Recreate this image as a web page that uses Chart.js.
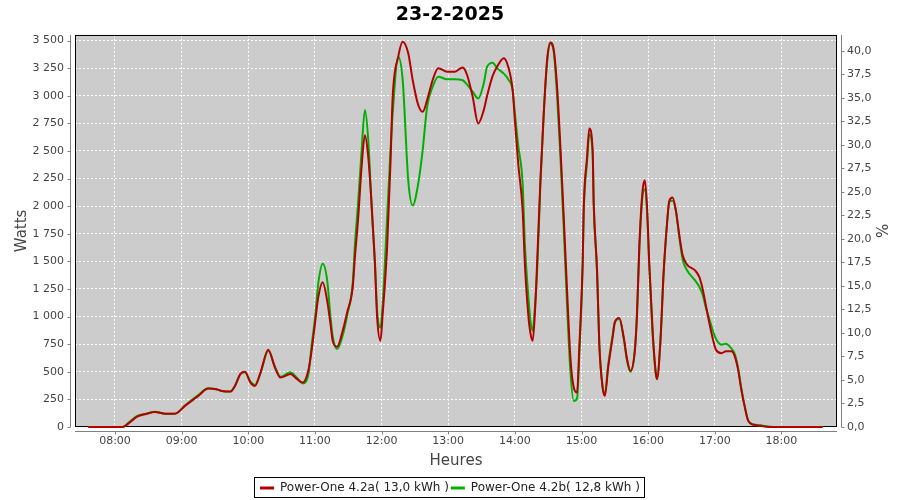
<!DOCTYPE html>
<html>
<head>
<meta charset="utf-8">
<title>23-2-2025</title>
<script src="https://cdn.jsdelivr.net/npm/chart.js@4"></script>
<style>
  html, body { margin: 0; padding: 0; background: #fff; }
</style>
</head>
<body>
<canvas id="chart" width="900" height="500"></canvas>
<script>
// relevés (heure locale)
const times = [
  '07:36','08:07','08:13','08:20','08:28','08:36','08:45','08:54','09:03','09:15',
  '09:24','09:30','09:36','09:44','09:48','09:53','09:57','10:02','10:06','10:11',
  '10:18','10:24','10:29','10:38','10:44','10:49','10:54','10:57','11:00','11:03',
  '11:07','11:11','11:14','11:16','11:20','11:25','11:29','11:34','11:36','11:39',
  '11:42','11:45','11:48','11:51','11:54','11:56','11:59','12:01','12:05','12:08',
  '12:10','12:15','12:19','12:24','12:28','12:33','12:37','12:41','12:46','12:51',
  '12:59','13:06','13:13','13:17','13:22','13:27','13:32','13:35','13:40','13:44',
  '13:50','13:54','13:58','14:00','14:03','14:07','14:09','14:12','14:14','14:16',
  '14:18','14:20','14:23','14:26','14:29','14:32','14:35','14:38','14:41','14:44',
  '14:47','14:50','14:53','14:56','14:58','15:01','15:02','15:05','15:07','15:10',
  '15:11','15:14','15:16','15:19','15:21','15:24','15:28','15:30','15:34','15:38',
  '15:41','15:44','15:48','15:50','15:52','15:55','15:57','15:59','16:01','16:04',
  '16:07','16:08','16:11','16:14','16:17','16:19','16:22','16:25','16:28','16:31',
  '16:35','16:42','16:46','16:49','16:52','16:55','16:58','17:01','17:06','17:10',
  '17:15','17:18','17:21','17:24','17:27','17:30','17:35','17:41','17:48','17:57',
  '18:37'
];

// Power-One 4.2a (W)
const wattsA = [
  0, 0, 40, 94, 118, 136, 121, 121, 191, 282,
  348, 345, 327, 321, 372, 481, 500, 402, 372, 493,
  699, 539, 448, 479, 433, 402, 509, 690, 933, 1174,
  1311, 1144, 933, 781, 727, 872, 1038, 1265, 1538, 1901,
  2355, 2643, 2446, 2023, 1478, 993, 781, 1024, 1629, 2386,
  2991, 3354, 3490, 3385, 3143, 2916, 2855, 2961, 3143, 3249,
  3218, 3218, 3256, 3188, 2991, 2749, 2870, 3000, 3180, 3263,
  3340, 3263, 3052, 2779, 2386, 1962, 1478, 1024, 850, 781,
  1024, 1478, 2234, 2840, 3324, 3482, 3415, 3082, 2537, 1901,
  1235, 629, 357, 312, 720, 1478, 1992, 2446, 2704, 2507,
  2023, 1417, 751, 357, 282, 539, 811, 947, 987, 811,
  615, 509, 690, 1024, 1629, 2143, 2234, 1992, 1478, 872,
  479, 433, 781, 1417, 1841, 2047, 2078, 1955, 1741, 1558,
  1471, 1420, 1359, 1252, 1098, 945, 807, 700, 669, 685,
  685, 639, 517, 332, 180, 57, 20, 11, 0, 0,
  0
];

// Power-One 4.2b (W)
const wattsB = [
  0, 0, 45, 100, 120, 138, 121, 121, 195, 290,
  350, 345, 327, 321, 372, 481, 495, 410, 380, 490,
  690, 545, 455, 495, 445, 395, 470, 740, 980, 1300,
  1478, 1330, 1000, 820, 706, 830, 1010, 1300, 1650, 2050,
  2500, 2870, 2600, 2000, 1500, 1050, 902, 1114, 1900, 2500,
  2840, 3354, 3143, 2234, 2007, 2204, 2507, 2900, 3082, 3173,
  3149, 3149, 3140, 3100, 3037, 2976, 3113, 3263, 3300, 3250,
  3200, 3150, 3050, 2840, 2550, 2200, 1659, 1200, 963, 872,
  1080, 1400, 2204, 2840, 3300, 3470, 3400, 3000, 2450, 1800,
  1100, 500, 236, 260, 650, 1450, 1950, 2400, 2650, 2480,
  2000, 1400, 750, 360, 300, 560, 830, 950, 980, 800,
  600, 500, 700, 1050, 1600, 2100, 2150, 1950, 1450, 850,
  470, 450, 760, 1400, 1850, 2040, 2050, 1960, 1720, 1520,
  1420, 1330, 1270, 1200, 1080, 980, 880, 800, 746, 755,
  710, 660, 530, 340, 185, 60, 22, 15, 5, 0,
  0
];

const seriesNames = ['Power-One 4.2a( 13,0 kWh )', 'Power-One 4.2b( 12,8 kWh )'];
const seriesColors = ['#b40000', '#00b000'];

// graduations
const hourTicks = ['08:00','09:00','10:00','11:00','12:00','13:00','14:00','15:00','16:00','17:00','18:00'];
const wattTicks = [0, 250, 500, 750, 1000, 1250, 1500, 1750, 2000, 2250, 2500, 2750, 3000, 3250, 3500];
const pctTicks = [0, 2.5, 5, 7.5, 10, 12.5, 15, 17.5, 20, 22.5, 25, 27.5, 30, 32.5, 35, 37.5, 40];

function toMinutes(t) {
  const p = t.split(':');
  return Number(p[0]) * 60 + Number(p[1]);
}

function points(values) {
  return values.map((v, i) => ({ x: toMinutes(times[i]), y: v }));
}

function fmtWatts(v) {
  return String(Math.round(v)).replace(/\B(?=(\d{3})+(?!\d))/g, ' ');
}

function fmtHour(v) {
  return String(Math.floor(v / 60)).padStart(2, '0') + ':' + String(v % 60).padStart(2, '0');
}

const tickFont = { family: 'DejaVu Sans', size: 11 };
const titleFont = { family: 'DejaVu Sans', size: 15 };

// fond gris, cadre noir, axes décalés, cadre de légende
const plotFrame = {
  id: 'plotFrame',
  beforeDraw(chart) {
    const { ctx, chartArea: a } = chart;
    ctx.save();
    ctx.fillStyle = '#ffffff';
    ctx.fillRect(0, 0, chart.width, chart.height);
    ctx.fillStyle = '#cccccc';
    ctx.fillRect(a.left, a.top, a.right - a.left, a.bottom - a.top);
    ctx.restore();
  },
  beforeDatasetsDraw(chart) {
    const { ctx, chartArea: a } = chart;
    ctx.save();
    ctx.strokeStyle = '#000000';
    ctx.lineWidth = 1;
    ctx.strokeRect(Math.round(a.left) + 0.5, Math.round(a.top) + 0.5,
      Math.round(a.right - a.left) - 1, Math.round(a.bottom - a.top) - 1);
    ctx.restore();
  },
  afterDraw(chart) {
    const { ctx, chartArea: a, scales } = chart;
    ctx.save();
    ctx.strokeStyle = '#808080';
    ctx.lineWidth = 1;
    ctx.beginPath();
    // axe gauche
    const lx = Math.round(a.left) - 4.5;
    ctx.moveTo(lx, a.top); ctx.lineTo(lx, a.bottom);
    scales.y.ticks.forEach(t => {
      const py = Math.round(scales.y.getPixelForValue(t.value)) + 0.5;
      ctx.moveTo(lx - 3, py); ctx.lineTo(lx, py);
    });
    // axe droit
    const rx = Math.round(a.right) + 4.5;
    ctx.moveTo(rx, a.top); ctx.lineTo(rx, a.bottom);
    scales.y1.ticks.forEach(t => {
      const py = Math.round(scales.y1.getPixelForValue(t.value)) + 0.5;
      ctx.moveTo(rx, py); ctx.lineTo(rx + 3, py);
    });
    // axe du bas
    const by = Math.round(a.bottom) + 4.5;
    ctx.moveTo(a.left, by); ctx.lineTo(a.right, by);
    scales.x.ticks.forEach(t => {
      const px = Math.round(scales.x.getPixelForValue(t.value)) + 0.5;
      ctx.moveTo(px, by); ctx.lineTo(px, by + 3);
    });
    ctx.stroke();

    // cadre de la légende
    const boxes = chart.legend.legendHitBoxes;
    if (boxes && boxes.length) {
      let l = Infinity, r = -Infinity, t = Infinity, b = -Infinity;
      boxes.forEach(h => {
        l = Math.min(l, h.left); r = Math.max(r, h.left + h.width);
        t = Math.min(t, h.top); b = Math.max(b, h.top + h.height);
      });
      ctx.strokeStyle = '#000000';
      ctx.strokeRect(Math.round(l) - 5.5, Math.round(t) - 4.5, Math.round(r - l) + 10, Math.round(b - t) + 8);
    }
    ctx.restore();
  }
};

new Chart(document.getElementById('chart'), {
  type: 'line',
  data: {
    datasets: [0, 1].map(i => ({
      label: seriesNames[i],
      data: points(i === 0 ? wattsA : wattsB),
      borderColor: seriesColors[i],
      backgroundColor: seriesColors[i],
      borderWidth: 2,
      pointRadius: 0,
      cubicInterpolationMode: 'monotone',
      fill: false,
      clip: 4,
      yAxisID: 'y'
    }))
  },
  options: {
    responsive: false,
    animation: false,
    layout: { padding: { left: 0, right: 0, top: 0, bottom: -4 } },
    plugins: {
      title: {
        display: true,
        text: '23-2-2025',
        color: '#000',
        font: { family: 'DejaVu Sans', size: 19, weight: 'bold' },
        padding: { top: 4, bottom: 8 }
      },
      legend: {
        position: 'bottom',
        labels: {
          usePointStyle: true,
          pointStyle: 'line',
          pointStyleWidth: 14,
          boxHeight: 12,
          padding: 2,
          color: '#222',
          font: { family: 'DejaVu Sans', size: 12 },
          generateLabels(chart) {
            const items = Chart.defaults.plugins.legend.labels.generateLabels(chart);
            items.forEach(it => { it.lineWidth = 3; });
            return items;
          }
        }
      },
      tooltip: { enabled: false }
    },
    scales: {
      x: {
        type: 'linear',
        min: 444,
        max: 1130,
        afterFit(scale) { scale.height = 53; },
        afterBuildTicks(scale) { scale.ticks = hourTicks.map(h => ({ value: toMinutes(h) })); },
        ticks: {
          padding: 8,
          color: '#444',
          font: tickFont,
          callback: v => fmtHour(v)
        },
        grid: { color: '#ffffff', drawTicks: false },
        border: { display: false, dash: [2, 2] },
        title: { display: true, text: 'Heures', color: '#444', font: titleFont, padding: { top: 0, bottom: 10 } }
      },
      y: {
        position: 'left',
        min: 0,
        max: 3552,
        afterFit(scale) { scale.width = 75; },
        afterBuildTicks(scale) { scale.ticks = wattTicks.map(v => ({ value: v })); },
        ticks: {
          padding: 11,
          color: '#444',
          font: tickFont,
          callback: v => fmtWatts(v)
        },
        grid: { color: '#ffffff', drawTicks: false },
        border: { display: false, dash: [2, 2] },
        title: { display: true, text: 'Watts', color: '#444', font: titleFont, padding: { top: 13, bottom: 0 } }
      },
      y1: {
        position: 'right',
        min: 0,
        max: 41.7,
        afterFit(scale) { scale.width = 63; },
        afterBuildTicks(scale) { scale.ticks = pctTicks.map(v => ({ value: v })); },
        ticks: {
          padding: 10,
          color: '#444',
          font: tickFont,
          callback: v => v.toFixed(1).replace('.', ',')
        },
        grid: { display: false, drawTicks: false },
        border: { display: false },
        title: { display: true, text: '%', color: '#444', font: titleFont, padding: { top: 11, bottom: 0 } }
      }
    }
  },
  plugins: [plotFrame]
});
</script>
</body>
</html>
